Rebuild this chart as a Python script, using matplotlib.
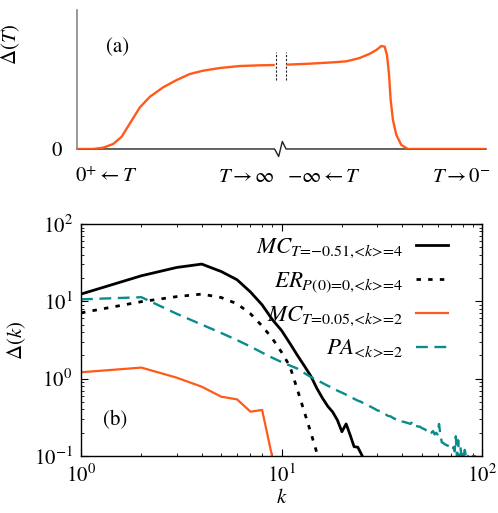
import numpy as np
import matplotlib
matplotlib.use("Agg")
import matplotlib.pyplot as plt

plt.rcParams['font.family'] = ['STIXGeneral', 'DejaVu Serif']
plt.rcParams['mathtext.fontset'] = 'stix'

# ---------------- data: panel (a) ----------------
# left branch (T from 0+ up to +inf), arbitrary horizontal position
a_left_x = [0, 3.98, 6.42, 8.86, 10.92, 12.94, 15.38, 17.83, 21.07, 24.35, 27.59,
            30.84, 34.92, 39.80, 44.69, 48.35]
a_left_d = [0, 0, 0.016, 0.06, 0.147, 0.307, 0.499, 0.626, 0.739, 0.826, 0.898,
            0.938, 0.970, 0.994, 1.002, 1.006]
# right branch (T from -inf up to 0-)
a_right_x = [51.21, 56.90, 62.59, 65.86, 69.11, 71.55, 73.19, 74.41, 75.21, 75.78,
             76.26, 76.68, 77.24, 78.07, 79.29, 80.90, 100]
a_right_d = [1.01, 1.022, 1.038, 1.05, 1.09, 1.14, 1.186, 1.234, 1.226, 1.126,
             0.907, 0.587, 0.347, 0.168, 0.048, 0, 0]

# ---------------- data: panel (b) ----------------
k_mc4 = list(range(1, 27))
d_mc4 = [12.4, 21.4, 27.4, 30.3, 24.3, 19.0, 13.2, 9.0, 5.8, 4.2, 2.87, 2.0, 1.46,
         1.08, 0.75, 0.56, 0.44, 0.37, 0.29, 0.206, 0.26, 0.186, 0.132, 0.13, 0.106, 0.085]

k_er = list(range(1, 17))
d_er = [7.1, 9.9, 11.5, 12.4, 11.2, 9.3, 6.9, 4.8, 3.3, 2.2, 1.45, 0.72, 0.37,
        0.2, 0.11, 0.055]

k_mc2 = list(range(1, 10))
d_mc2 = [1.21, 1.39, 1.03, 0.787, 0.585, 0.54, 0.374, 0.394, 0.095]

k_pa = list(range(1, 94))
d_pa = [10.6, 11.3, 6.9, 5.0, 3.9, 3.15, 2.6, 2.17, 1.86, 1.64,
        1.48, 1.35, 1.18, 1.05, 0.96, 0.88, 0.81, 0.76, 0.70, 0.66,
        0.62, 0.58, 0.55, 0.52, 0.50, 0.47, 0.45, 0.43, 0.41, 0.39,
        0.38, 0.355, 0.345, 0.33, 0.325, 0.31, 0.30, 0.29, 0.295, 0.28,
        0.275, 0.27, 0.265, 0.26, 0.28, 0.25, 0.245, 0.24, 0.24, 0.23,
        0.225, 0.22, 0.21, 0.205, 0.215, 0.20, 0.21, 0.19, 0.20, 0.19,
        0.26, 0.185, 0.15, 0.148, 0.142, 0.14, 0.137, 0.135, 0.133, 0.125,
        0.12, 0.13, 0.115, 0.18, 0.095, 0.16, 0.09, 0.13, 0.10, 0.11,
        0.095, 0.12, 0.10, 0.09, 0.10, 0.085, 0.09, 0.095, 0.085, 0.10,
        0.09, 0.10, 0.08]

labels = ['$MC_{T\\text{=\u22120.51,<}k\\text{>=4}}$',
          '$ER_{P\\text{(0)=0,<}k\\text{>=4}}$',
          '$MC_{T\\text{=0.05,<}k\\text{>=2}}$',
          '$PA_{\\text{<}k\\text{>=2}}$']

ORANGE = '#ff5a1a'
TEAL = '#0a8c8c'
FS = 15

fig = plt.figure(figsize=(4.98, 5.13), dpi=100)

# ---------------- panel (a) ----------------
ax1 = fig.add_axes([0.1546, 0.7096, 0.976 - 0.1546, 0.9805 - 0.7096])
ax1.plot(a_left_x, a_left_d, color=ORANGE, lw=1.7, solid_capstyle='butt', zorder=3)
ax1.plot(a_right_x, a_right_d, color=ORANGE, lw=1.7, solid_capstyle='butt', zorder=3)
ax1.set_xlim(0, 100)
ax1.set_ylim(0, 1.665)
for s in ['top', 'right', 'bottom']:
    ax1.spines[s].set_visible(False)
ax1.spines['left'].set_color('#888888')
ax1.spines['left'].set_linewidth(1.2)
# baseline with a break zig-zag
zx = [0, 48.3, 49.3, 50.2, 51.1, 100]
zy = [0, 0, -0.09, 0.09, 0, 0]
ax1.plot(zx, zy, color='#222222', lw=1.0, clip_on=False, zorder=2)
# dashed break marks on the curve
for bx in (48.6, 51.1):
    ax1.plot([bx, bx], [0.826, 1.165], color='#222222', lw=0.8, ls=(0, (2, 1.5)))
ax1.set_xticks([])
ax1.set_yticks([0])
ax1.set_yticklabels(['0'], fontsize=FS)
ax1.tick_params(axis='y', length=0, pad=11)
ax1.set_ylabel(r'$\Delta(T)$', fontsize=FS)
ax1.yaxis.set_label_coords(-0.135, 0.75)
ax1.text(7.0, 1.22, '(a)', fontsize=FS, va='center', ha='left')
ty = -0.34
ax1.text(-0.5, ty, r'$0^{+}\leftarrow T$', fontsize=FS, ha='left', va='center', clip_on=False)
ax1.text(41.5, ty, r'$T\rightarrow\infty$', fontsize=FS, ha='center', va='center', clip_on=False)
ax1.text(60.3, ty, r'$-\infty\leftarrow T$', fontsize=FS, ha='center', va='center', clip_on=False)
ax1.text(94.1, ty, r'$T\rightarrow 0^{-}$', fontsize=FS, ha='center', va='center', clip_on=False)

# ---------------- panel (b) ----------------
ax2 = fig.add_axes([0.1627, 0.1111, 0.968 - 0.1627, 0.5634 - 0.1111])
ax2.plot(k_mc4, d_mc4, color='black', lw=2.0, label=labels[0])
ax2.plot(k_er, d_er, color='black', lw=2.0, ls=(0, (1.6, 2.6)), label=labels[1])
ax2.plot(k_mc2, d_mc2, color=ORANGE, lw=1.6, label=labels[2])
ax2.plot(k_pa, d_pa, color=TEAL, lw=1.7, ls=(0, (5, 2.8)), label=labels[3])
ax2.set_xscale('log')
ax2.set_yscale('log')
ax2.set_xlim(1, 100)
ax2.set_ylim(0.1, 100)
ax2.tick_params(which='both', direction='in', top=True, right=True, labelsize=FS)
ax2.tick_params(which='major', length=5, width=0.8)
ax2.tick_params(which='minor', length=2.5, width=0.6)
ax2.tick_params(axis='x', pad=6)
ax2.tick_params(axis='y', pad=6)
for s in ax2.spines.values():
    s.set_linewidth(1.0)
ax2.set_xlabel(r'$k$', fontsize=FS, labelpad=1)
ax2.set_ylabel(r'$\Delta(k)$', fontsize=FS, labelpad=4)
ax2.text(0.055, 0.155, '(b)', transform=ax2.transAxes, fontsize=FS, va='center', ha='left')
leg = ax2.legend(loc='upper right', bbox_to_anchor=(0.932, 0.975), frameon=False,
                 markerfirst=False, fontsize=16.5, handlelength=1.4,
                 handletextpad=0.55, labelspacing=0.44, borderaxespad=0.0,
                 borderpad=0.3)

fig.savefig('out.png', dpi=100)
